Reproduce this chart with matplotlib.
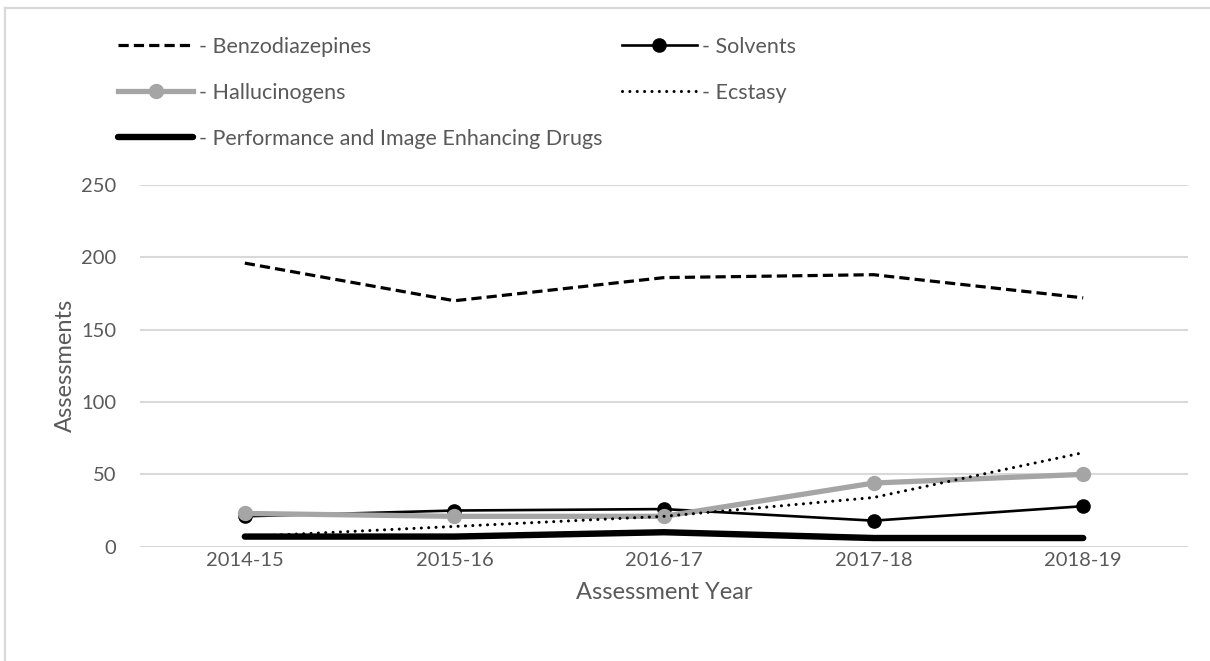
import matplotlib
matplotlib.use("Agg")
import matplotlib.pyplot as plt
from matplotlib.lines import Line2D

plt.rcParams['font.family'] = ['Lato', 'DejaVu Sans']

years = ["2014-15", "2015-16", "2016-17", "2017-18", "2018-19"]
benzodiazepines = [196, 170, 186, 188, 172]
solvents = [21, 25, 26, 18, 28]
hallucinogens = [23, 21, 21, 44, 50]
ecstasy = [7, 14, 21, 34, 65]
pied = [7, 7, 10, 6, 6]
y_ticks = [0, 50, 100, 150, 200, 250]

TEXT = "#595959"
GRID = "#D9D9D9"
GREY_SERIES = "#A5A5A5"

W, H = 1210, 661
fig = plt.figure(figsize=(W / 100, H / 100), dpi=100)

# frame lines around the chart area
fig.add_artist(Line2D([5 / W, 1.0], [1 - 8 / H, 1 - 8 / H], color=GRID, lw=1.6,
                      transform=fig.transFigure))
fig.add_artist(Line2D([5 / W, 5 / W], [0.0, 1 - 8 / H], color=GRID, lw=1.6,
                      transform=fig.transFigure))

left, right = 140, 1188
y0_px, y250_px = 546.7, 185.0
ax = fig.add_axes([left / W, 1 - y0_px / H, (right - left) / W, (y0_px - y250_px) / H])

x = list(range(len(years)))

l_benzo, = ax.plot(x, benzodiazepines, color="black", lw=2.3,
                   linestyle=(0, (3.2, 1.6)), zorder=3,
                   label="- Benzodiazepines")
l_solv, = ax.plot(x, solvents, color="black", lw=1.9, marker="o", markersize=9.5,
                  zorder=4, label="- Solvents")
l_hall, = ax.plot(x, hallucinogens, color=GREY_SERIES, lw=3.8, marker="o",
                  markersize=10, zorder=5, label="- Hallucinogens")
l_ecst, = ax.plot(x, ecstasy, color="black", lw=2.2, linestyle=(0, (0.01, 2.4)),
                  dash_capstyle="round", zorder=6, label="- Ecstasy")
l_pied, = ax.plot(x, pied, color="black", lw=4.6, solid_capstyle="round",
                  zorder=7, label="- Performance and Image Enhancing Drugs")

ax.set_xlim(-0.5, len(years) - 0.5)
ax.set_ylim(0, 250)
ax.set_yticks(y_ticks)
ax.set_xticks(x)
ax.set_xticklabels(years)
ax.grid(axis="y", color=GRID, lw=1.5, zorder=0)
ax.set_axisbelow(True)
for s in ax.spines.values():
    s.set_visible(False)
ax.tick_params(axis="both", length=0, labelsize=14.5, labelcolor=TEXT)
ax.tick_params(axis="y", pad=17)
ax.tick_params(axis="x", pad=4)
ax.set_ylabel("Assessments", fontsize=17, color=TEXT, labelpad=4)
ax.set_xlabel("Assessment Year", fontsize=17, color=TEXT, labelpad=9)

handles = [l_benzo, l_hall, l_pied, l_solv, l_ecst]
fig.legend(handles=handles, labels=[h.get_label() for h in handles],
           loc="upper left", bbox_to_anchor=(118 / W, 1 - 37 / H),
           bbox_transform=fig.transFigure, ncol=2, frameon=False,
           fontsize=15.5, labelcolor=TEXT, handlelength=3.5, handletextpad=0.25,
           columnspacing=0.9, labelspacing=1.2, borderpad=0, borderaxespad=0,
           numpoints=1)

fig.savefig("out.png", dpi=100, facecolor="white")
